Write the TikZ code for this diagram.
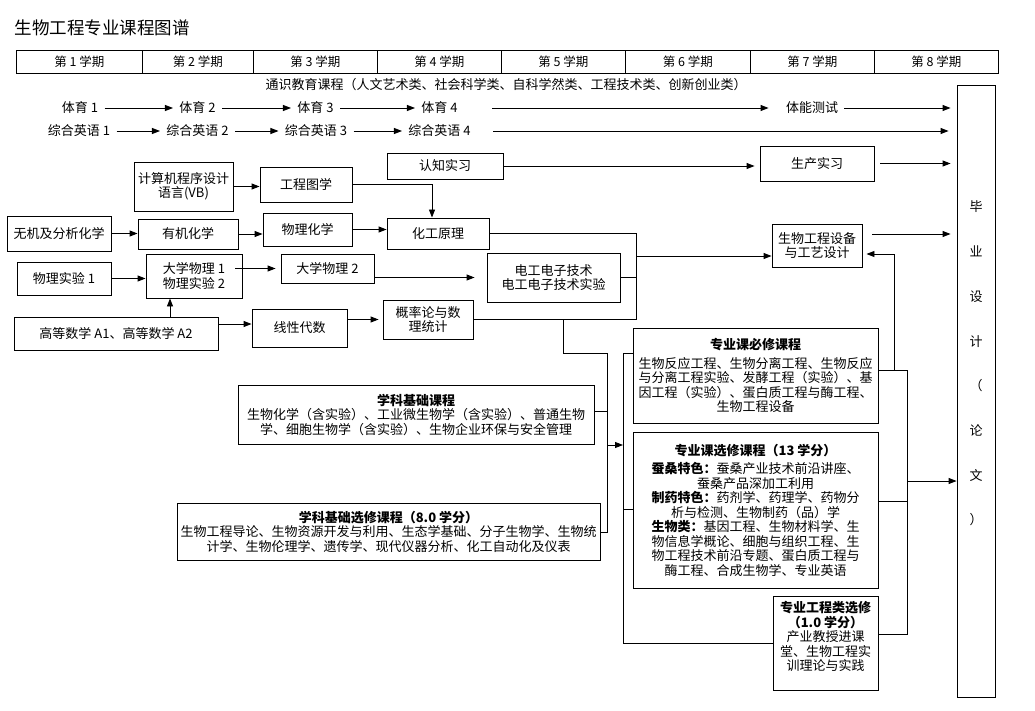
\documentclass[tikz,border=0pt]{standalone}
\usepackage{fontspec}
\setmainfont{Noto Sans CJK SC}
\usetikzlibrary{arrows.meta}

\begin{document}
\begin{tikzpicture}[x=1pt,y=-1pt,
  font=\fontsize{13}{14.5}\selectfont,
  line width=0.9pt,
  box/.style 2 args={draw, align=center, inner sep=1pt, minimum width=#1, minimum height=#2},
  word/.style={inner sep=6pt},
  cell/.style={draw, anchor=north west, inner sep=0pt, minimum height=23, font=\fontsize{12.5}{14}\selectfont},
  arr/.style={-{Triangle[length=8pt,width=6pt]}}]

\useasboundingbox (0,0) rectangle (1035,711);

% title and semesters
\node[anchor=west, font=\fontsize{17.5}{20}\selectfont] (title) at (11,28) {生物工程专业课程图谱};
\foreach \a/\b [count=\i] in {16/142,142/253,253/377,377/501,501/625,625/750,750/874,874/998}
  \node[cell, minimum width={\b-\a}] (sem\i) at (\a,50) {第~\i~学期};

\node (gen) at (506,85) {通识教育课程（人文艺术类、社会科学类、自科学然类、工程技术类、创新创业类）};

% PE and English
\node[word] (pe1) at (80,108) {体育 1};
\node[word] (pe2) at (197.5,108) {体育 2};
\node[word] (pe3) at (315.5,108) {体育 3};
\node[word] (pe4) at (439.5,108) {体育 4};
\node[word] (fit) at (812,108) {体能测试};
\node[word] (en1) at (79,131) {综合英语 1};
\node[word] (en2) at (197.5,131) {综合英语 2};
\node[word] (en3) at (316,131) {综合英语 3};
\node[word] (en4) at (439.5,131) {综合英语 4};

% thesis
\node[box={38}{612}] (thesis) at (976,391) {};
\foreach \c [count=\i] in {毕,业,设,计,（,论,文,）}
  \node at (976,{207+44.7*(\i-1)}) {\c};

% courses
\node[box={116}{26}] (cknow) at (445,166) {认知实习};
\node[box={114}{35}] (prod) at (817,163.5) {生产实习};
\node[box={99}{49}] (vb) at (183.5,186.5) {计算机程序设计\\语言(VB)};
\node[box={92}{35}] (drawing) at (306,184.5) {工程图学};
\node[box={104}{35}] (inorg) at (59,233.5) {无机及分析化学};
\node[box={100}{30}] (org) at (188,234) {有机化学};
\node[box={89}{33}] (pchem) at (307.5,229.5) {物理化学};
\node[box={102}{31}] (cpri) at (438,233.5) {化工原理};
\node[box={94}{33}] (phy1) at (64,278.5) {物理实验 1};
\node[box={96}{44}] (uphy) at (194,276) {大学物理 1\\物理实验 2};
\node[box={93}{29}] (uphy2) at (327.5,268.5) {大学物理 2};
\node[box={133}{49}] (elec) at (553.5,277.5) {电工电子技术\\电工电子技术实验};
\node[box={204}{33}] (math) at (116,333.5) {高等数学 A1、高等数学 A2};
\node[box={95}{38}] (lin) at (299.5,328) {线性代数};
\node[box={90}{39}] (prob) at (428,319.5) {概率论与数\\理统计};
\node[box={90}{43}] (bioeq) at (817,245.5) {生物工程设备\\与工艺设计};

\node[box={356}{59}] (basic) at (416,414.5) {\textbf{学科基础课程}\\
  生物化学（含实验）、工业微生物学（含实验）、普通生物\\
  学、细胞生物学（含实验）、生物企业环保与安全管理};
\node[box={423}{57}] (basicel) at (388.5,531.5) {\textbf{学科基础选修课程（8.0 学分）}\\
  生物工程导论、生物资源开发与利用、生态学基础、分子生物学、生物统\\
  计学、生物伦理学、遗传学、现代仪器分析、化工自动化及仪表};
\node[box={245}{95}] (req) at (755.5,375.5) {\textbf{专业课必修课程}\\[4pt]
  生物反应工程、生物分离工程、生物反应\\
  与分离工程实验、发酵工程（实验）、基\\
  因工程（实验）、蛋白质工程与酶工程、\\
  生物工程设备};
\node[box={245}{156}] (elect) at (755.5,510) {\textbf{专业课选修课程（13 学分）}\\[4pt]
  \textbf{蚕桑特色：}蚕桑产业技术前沿讲座、\\
  蚕桑产品深加工利用\\
  \textbf{制药特色：}药剂学、药理学、药物分\\
  析与检测、生物制药（品）学\\
  \textbf{生物类：}基因工程、生物材料学、生\\
  物信息学概论、细胞与组织工程、生\\
  物工程技术前沿专题、蛋白质工程与\\
  酶工程、合成生物学、专业英语};
\node[box={105}{94}] (engel) at (825.5,643) {};
\node[align=center, yshift=6.5pt] (engeltxt) at (engel) {\textbf{专业工程类选修}\\\textbf{（1.0 学分）}\\
  产业教授进课\\堂、生物工程实\\训理论与实践};

% arrows: general rows
\draw[arr] (pe1) -- (pe2);
\draw[arr] (pe2) -- (pe3);
\draw[arr] (pe3) -- (pe4);
\draw[arr, shorten <=28pt, shorten >=11pt] (pe4) -- (fit);
\draw[arr, shorten >=6pt] (fit) -- (fit -| thesis.west);
\draw[arr] (en1) -- (en2);
\draw[arr] (en2) -- (en3);
\draw[arr] (en3) -- (en4);
\draw[arr, shorten <=16pt, shorten >=8pt] (en4) -- (en4 -| thesis.west);

% arrows: courses
\draw[arr, shorten >=5pt] (cknow) -- (cknow -| prod.west);
\draw[arr, shorten <=6pt, shorten >=6pt] (prod) -- (prod -| thesis.west);
\draw[arr] (vb) -- (vb -| drawing.west);
\draw[arr] (drawing) -| ([xshift=-6pt]cpri.north);
\draw[arr] (inorg) -- (inorg -| org.west);
\draw[arr] (org) -- (org -| pchem.west);
\draw[arr] (pchem) -- (pchem -| cpri.west);
\draw[arr] (phy1) -- (phy1 -| uphy.west);
\coordinate (uphyout) at ([xshift=-7pt]uphy.east);
\draw[arr, shorten >=5pt] (uphyout |- uphy2) -- (uphy2);
\draw[arr, shorten >=12pt] (uphy2.east |- elec) -- (elec);
\coordinate (mathup) at ([xshift=-24pt]uphy.south);
\draw[arr] (mathup |- math.north) -- (mathup);
\coordinate (linin) at ([yshift=4pt]lin.west);
\draw[arr] (math.east |- linin) -- (linin);
\draw[arr, shorten >=4pt] (lin.east |- prob) -- (prob);

% junction to bioeq
\coordinate (ja) at (636,233.5);
\coordinate (jb) at (636,319.5);
\coordinate (jc) at (636,256);
\draw (cpri) -- (ja) -- (jb) -- (prob);
\draw (elec) -- (elec -| ja);
\draw[arr] (jc) -- (jc -| bioeq.west);

% junction to specialty blocks
\coordinate (ka) at (563,319.5);
\coordinate (kb) at (563,353);
\coordinate (kc) at (607,353);
\coordinate (kd) at (607,532);
\coordinate (ke) at (607,411);
\coordinate (kf) at (607,445);
\coordinate (ma) at (623,353);
\coordinate (mb) at (623,643);
\coordinate (mc) at (623,509);
\draw (ka) -- (kb) -- (kc) -- (kd) -- (kd -| basicel.east);
\draw (ke -| basic.east) -- (ke);
\draw[arr] (kf) -- (kf -| ma);
\draw (ma -| req.west) -- (ma) -- (mb) -- (mb -| engel.west);
\draw (mc) -- (mc -| elect.west);

% right side
\coordinate (ra) at (907,370);
\coordinate (rb) at (907,634);
\coordinate (rc) at (907,501);
\coordinate (rd) at (907,481);
\coordinate (ua) at (894,370);
\coordinate (bioin) at ([yshift=-8.5pt]bioeq.east);
\coordinate (bioout) at ([yshift=11.5pt]bioeq.east);
\draw (ra -| req.east) -- (ra) -- (rb) -- (rb -| engel.east);
\draw (rc -| elect.east) -- (rc);
\draw[arr] (rd) -- (rd -| thesis.west);
\draw[arr, shorten >=4pt] (ua) |- (bioin);
\draw[arr, shorten <=10pt, shorten >=6pt] (bioout) -- (bioout -| thesis.west);

\end{tikzpicture}
\end{document}
